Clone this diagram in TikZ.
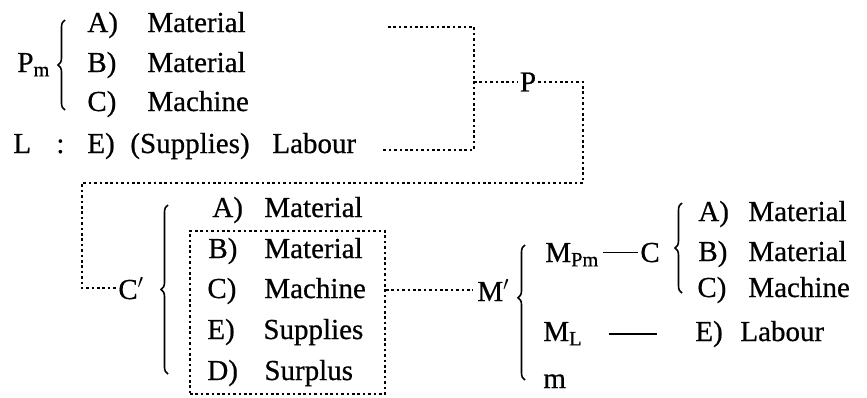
\documentclass[tikz,border=0pt]{standalone}
\usepackage{fontspec}
\setmainfont{Liberation Serif}[FakeBold=0.6]
\usetikzlibrary{decorations.pathreplacing}
\tikzset{
  txt/.style={inner sep=0pt, anchor=base west, font=\fontsize{14.5}{17}\selectfont},
  dotline/.style={line width=1.05pt, dash pattern=on 1.3pt off 1.4pt},
  dotbox/.style={draw, line width=1.05pt, dash pattern=on 1.3pt off 1.4pt, inner sep=0pt},
  brc/.style={decorate, decoration={brace, amplitude=3.5pt}, line width=0.8pt},
  solid line/.style={line width=0.9pt}
}
\begin{document}
\begin{tikzpicture}[x=0.5pt,y=-0.5pt]
\useasboundingbox (0,0) rectangle (867,397);
% ---- top-left block
\node[txt] (Pm) at (17,72) {P\textsubscript{m}};
\draw[brc] (65,110) -- (65,20);
\node[txt] (a1l) at (87,32) {A)};   \node[txt] (a1t) at (147,32) {Material};
\node[txt] (b1l) at (87,72) {B)};   \node[txt] (b1t) at (147,72) {Material};
\node[txt] (c1l) at (87,111) {C)};  \node[txt] (c1t) at (147,111) {Machine};
\node[txt] (L) at (13,153) {L};
\node[txt] (colon) at (56,153) {:};
\node[txt] (e1l) at (87,153) {E)};
\node[txt] (e1s) at (130,153) {(Supplies)};
\node[txt] (e1t) at (272,153) {Labour};
% ---- dotted connectors at the top
\coordinate (ta) at (388,27);
\coordinate (tl) at (382,150);
\coordinate (tj) at (474,82);
\node[txt, anchor=center] (P) at (528,82) {P};
\coordinate (tr) at (583,183);
\coordinate (tlft) at (82,183);
\draw[dotline] (ta) -| (tj) |- (tl);
\draw[dotline] (tj) -- ([xshift=-1pt]P.west);
% ---- bottom-left block
\node[txt] (Cp) at (118,299) {C$'$};
\draw[dotline] ([xshift=1pt]P.east) -| (tr) -- (tlft) |- ([xshift=-1pt]Cp.west);
\draw[brc] (168,374) -- (168,205);
\node[txt] (a2l) at (212,217) {A)};  \node[txt] (a2t) at (264,217) {Material};
\node[txt] (b2l) at (208,258) {B)};  \node[txt] (b2t) at (264,258) {Material};
\node[txt] (c2l) at (207,298) {C)};  \node[txt] (c2t) at (264,298) {Machine};
\node[txt] (e2l) at (207,339) {E)};  \node[txt] (e2t) at (263,339) {Supplies};
\node[txt] (d2l) at (207,380) {D)};  \node[txt] (d2t) at (264,380) {Surplus};
\node[dotbox, minimum width=97.5pt, minimum height=81.5pt] (box) at (287.5,312.5) {};
% ---- right block
\node[txt] (Mp) at (477,301) {M$'$};
\draw[dotline] (box.east |- Mp.west) -- ([xshift=-2pt]Mp.west);
\draw[brc, decoration={aspect=0.61}] (525,380) -- (525,245);
\node[txt] (MPm) at (545,262) {M\textsubscript{Pm}};
\node[txt] (Cn) at (640,262) {C};
\draw[solid line] ([xshift=1.5pt]MPm.east |- Cn) -- ([xshift=-1pt]Cn.west);
\draw[brc] (682,293) -- (682,203);
\node[txt] (a3l) at (698,221) {A)};  \node[txt] (a3t) at (748,221) {Material};
\node[txt] (b3l) at (698,261) {B)};  \node[txt] (b3t) at (748,261) {Material};
\node[txt] (c3l) at (697,297) {C)};  \node[txt] (c3t) at (748,297) {Machine};
\node[txt] (ML) at (543,341) {M\textsubscript{L}};
\draw[solid line] ([xshift=13pt]ML.east) -- ++(48,0);
\node[txt] (e3l) at (695,341) {E)};  \node[txt] (e3t) at (740,341) {Labour};
\node[txt] (m) at (543,388) {m};
\end{tikzpicture}
\end{document}
